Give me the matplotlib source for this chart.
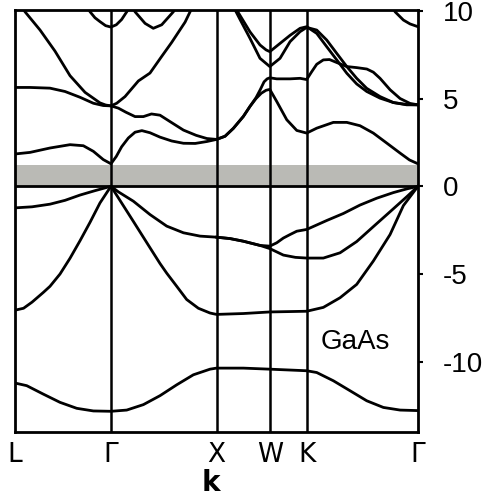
import matplotlib
matplotlib.use("Agg")
import matplotlib.pyplot as plt

# high-symmetry points along the k path
kpt_pos = [0, 0.90, 1.89, 2.39, 2.736, 3.78]
kpt_labels = ["L", "Γ", "X", "W", "K", "Γ"]
gap_top = 1.22

# valence bands
vb1_k = [0, 0.16, 0.328, 0.47, 0.61, 0.75, 0.90, 0.97, 1.11, 1.266, 1.423, 1.58, 1.736, 1.89,
         2.017, 2.142, 2.298, 2.39, 2.455, 2.517, 2.58, 2.643, 2.736, 2.924, 3.08, 3.236, 3.393,
         3.549, 3.674, 3.78]
vb1_e = [-1.23, -1.17, -1.02, -0.8, -0.5, -0.25, 0, -0.32, -0.85, -1.61, -2.27, -2.65, -2.84, -2.9,
         -2.98, -3.13, -3.37, -3.41, -3.22, -2.95, -2.75, -2.56, -2.46, -1.95, -1.55, -1.07, -0.68,
         -0.36, -0.15, 0]

vb2_k = [1.89, 2.017, 2.142, 2.298, 2.39, 2.517, 2.63, 2.736, 2.892, 3.049, 3.205, 3.361, 3.518,
         3.674, 3.78]
vb2_e = [-2.9, -2.98, -3.13, -3.37, -3.55, -3.92, -4.05, -4.09, -4.09, -3.79, -3.15, -2.3, -1.45,
         -0.6, 0]

vb3_k = [0, 0.08, 0.16, 0.265, 0.328, 0.422, 0.516, 0.61, 0.704, 0.797, 0.90, 1.0, 1.11, 1.266,
         1.36, 1.423, 1.517, 1.61, 1.72, 1.829, 1.89, 2.142, 2.39, 2.736, 2.892, 3.049, 3.205,
         3.361, 3.518, 3.643, 3.78]
vb3_e = [-7.06, -6.95, -6.6, -6.05, -5.7, -5.0, -4.1, -3.1, -2.05, -0.95, 0, -0.95, -2.0, -3.5,
         -4.4, -4.95, -5.7, -6.45, -6.95, -7.22, -7.3, -7.25, -7.16, -7.12, -6.9, -6.35, -5.59,
         -4.26, -2.75, -1.1, 0]

vb4_k = [0, 0.11, 0.265, 0.422, 0.579, 0.735, 0.90, 1.048, 1.204, 1.36, 1.517, 1.673, 1.829,
         1.89, 2.142, 2.39, 2.736, 2.83, 2.986, 3.143, 3.299, 3.455, 3.612, 3.78]
vb4_e = [-11.21, -11.36, -11.84, -12.31, -12.65, -12.8, -12.82, -12.75, -12.44, -11.93, -11.31,
         -10.74, -10.42, -10.36, -10.36, -10.42, -10.51, -10.61, -11.08, -11.65, -12.22, -12.6,
         -12.75, -12.78]

# conduction bands
cb1_k = [0, 0.141, 0.328, 0.516, 0.641, 0.735, 0.828, 0.90, 0.95, 1.0, 1.063, 1.126, 1.19, 1.266,
         1.36, 1.47, 1.58, 1.69, 1.80, 1.89, 1.97, 2.048, 2.142, 2.204, 2.261, 2.31, 2.355, 2.39,
         2.455, 2.549, 2.643, 2.736, 2.83, 2.986, 3.112, 3.236, 3.361, 3.487, 3.612, 3.70, 3.78]
cb1_e = [1.84, 1.93, 2.18, 2.37, 2.31, 1.99, 1.52, 1.28, 1.7, 2.25, 2.75, 3.08, 3.17, 3.05,
         2.8, 2.58, 2.45, 2.44, 2.55, 2.67, 2.85, 3.3, 3.98, 4.55, 5.0, 5.3, 5.47, 5.52,
         4.83, 3.79, 3.18, 3.03, 3.31, 3.64, 3.64, 3.45, 3.03, 2.46, 1.89, 1.5, 1.28]

cb2_k = [0, 0.141, 0.328, 0.469, 0.61, 0.735, 0.828, 0.90, 0.97, 1.04, 1.126, 1.204, 1.28, 1.36,
         1.45, 1.58, 1.70, 1.80, 1.89, 1.97, 2.048, 2.142, 2.204, 2.261, 2.30, 2.336, 2.365, 2.39,
         2.455, 2.58, 2.674, 2.736, 2.78, 2.83, 2.892, 2.95, 3.018, 3.112, 3.205, 3.30, 3.361,
         3.424, 3.518, 3.612, 3.705, 3.78]
cb2_e = [5.63, 5.63, 5.59, 5.4, 5.07, 4.73, 4.6, 4.58, 4.45, 4.22, 3.97, 3.97, 4.12, 4.05,
         3.7, 3.2, 2.9, 2.72, 2.67, 2.85, 3.3, 3.98, 4.55, 5.05, 5.5, 5.95, 6.12, 6.18,
         6.12, 6.12, 6.15, 6.08, 6.5, 6.95, 7.2, 7.22, 7.05, 6.82, 6.76, 6.68, 6.5,
         6.15, 5.5, 5.0, 4.72, 4.64]

cb3_k = [0.05, 0.094, 0.235, 0.375, 0.516, 0.657, 0.797, 0.85, 0.90, 0.954, 1.032, 1.157, 1.266,
         1.376, 1.47, 1.595, 1.642, 1.68]
cb3_e = [10.4, 9.94, 8.9, 7.7, 6.3, 5.35, 4.75, 4.63, 4.58, 4.73, 5.11, 6.0, 6.45,
         7.4, 8.2, 9.35, 9.94, 10.4]

cb4_k = [0.66, 0.704, 0.75, 0.797, 0.85, 0.90, 0.95, 1.0, 1.048, 1.09]
cb4_e = [10.4, 9.94, 9.6, 9.38, 9.15, 9.07, 9.2, 9.5, 9.94, 10.4]

cb5_k = [1.09, 1.126, 1.22, 1.297, 1.376, 1.485, 1.53]
cb5_e = [10.4, 9.94, 9.28, 9.0, 9.2, 9.94, 10.4]

cb6_k = [2.05, 2.09, 2.204, 2.298, 2.355, 2.39, 2.486, 2.58, 2.674, 2.736, 2.83, 2.924, 3.018,
         3.112, 3.205, 3.299, 3.424, 3.549, 3.674, 3.78]
cb6_e = [10.4, 9.94, 8.8, 8.05, 7.77, 7.67, 8.14, 8.6, 9.0, 9.09, 8.71, 7.95, 7.2,
         6.44, 5.83, 5.4, 5.02, 4.77, 4.64, 4.64]

cb7_k = [2.03, 2.06, 2.111, 2.204, 2.298, 2.39, 2.486, 2.58, 2.674, 2.736, 2.83, 2.924, 3.018,
         3.112, 3.205, 3.299, 3.424, 3.549, 3.674, 3.78]
cb7_e = [10.4, 10.1, 9.5, 8.43, 7.29, 6.82, 7.29, 8.24, 8.81, 9.05, 8.9, 8.33, 7.57,
         6.82, 6.15, 5.58, 5.11, 4.77, 4.66, 4.64]

cb8_k = [3.53, 3.565, 3.643, 3.705, 3.78]
cb8_e = [10.4, 9.94, 9.47, 9.25, 9.09]

bands = [(vb1_k, vb1_e), (vb2_k, vb2_e), (vb3_k, vb3_e), (vb4_k, vb4_e),
         (cb1_k, cb1_e), (cb2_k, cb2_e), (cb3_k, cb3_e), (cb4_k, cb4_e),
         (cb5_k, cb5_e), (cb6_k, cb6_e), (cb7_k, cb7_e), (cb8_k, cb8_e)]

fig = plt.figure(figsize=(4.89, 5.01), dpi=100)
ax = fig.add_axes([0.0307, 0.1377, 0.8241, 0.8433])

ax.axhspan(0, gap_top, color="#babab5", lw=0, zorder=1)
ax.axhline(0, color="black", lw=2.0, zorder=3)
for x in kpt_pos[1:-1]:
    ax.axvline(x, color="black", lw=1.8, zorder=3)

for k, e in bands:
    ax.plot(k, e, color="black", lw=2.0, solid_joinstyle="round", zorder=4)

ax.text(3.19, -8.86, "GaAs", ha="center", va="center", fontsize=20,
        family="Liberation Sans")

ax.set_xlim(kpt_pos[0], kpt_pos[-1])
ax.set_ylim(-14.0, 10.07)
ax.set_xticks(kpt_pos)
ax.set_xticklabels(kpt_labels, fontsize=19)
ax.tick_params(axis="x", length=0, pad=7)
ax.yaxis.tick_right()
ax.set_yticks([-10, -5, 0, 5, 10])
ax.set_yticklabels(["-10", "-5", "0", "5", "10"], family="Liberation Sans", fontsize=20)
ax.tick_params(axis="y", length=3.6, width=1.5, direction="out", pad=14)
ax.set_xlabel("k", fontsize=20, fontweight="bold", labelpad=1)
ax.xaxis.label.set_x(0.486)
for s in ax.spines.values():
    s.set_linewidth(2.0)

fig.savefig("out.png", dpi=100)
